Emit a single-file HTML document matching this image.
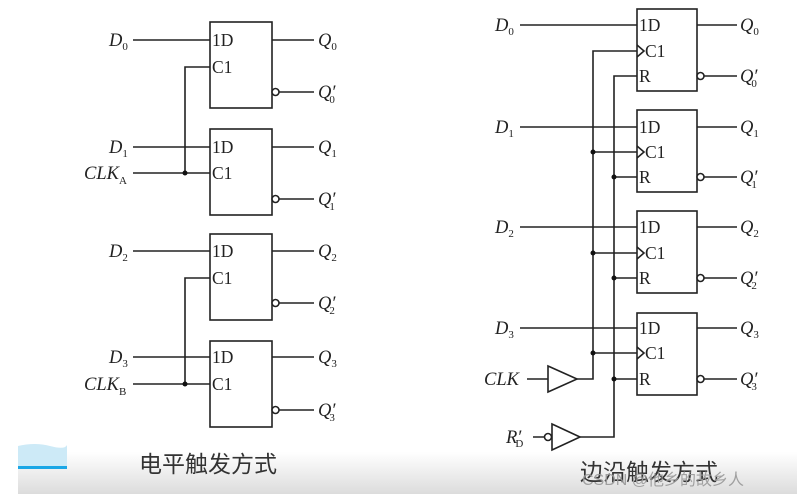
<!DOCTYPE html>
<html><head><meta charset="utf-8"><style>
html,body{margin:0;padding:0;background:#fff;width:797px;height:495px;overflow:hidden}
svg{display:block}
text{font-family:"Liberation Serif",serif;fill:#222}
.it{font-style:italic}
</style></head><body>
<svg width="797" height="495" viewBox="0 0 797 495">
<defs><linearGradient id="g" x1="0" y1="0" x2="0" y2="1"><stop offset="0" stop-color="#fff"/><stop offset="1" stop-color="#dcdcdc"/></linearGradient></defs>
<rect x="18" y="452" width="779" height="42" fill="url(#g)"/>
<path d="M18 446 Q35 442 50 446 T67 445 L67 467 L18 467Z" fill="#cdeaf7"/>
<rect x="18" y="466" width="49" height="3" fill="#1aa7e6"/>
<g stroke="#222" stroke-width="1.6" fill="none">
<rect x="210" y="22" width="62" height="86"/>
<rect x="210" y="129" width="62" height="86"/>
<rect x="210" y="234" width="62" height="86"/>
<rect x="210" y="341" width="62" height="86"/>
<path d="M133 40H210M133 147H210M133 251H210M133 357H210"/>
<path d="M210 67H185V173M133 173H210"/>
<path d="M210 278H185V384M133 384H210"/>
<path d="M272 40H314M272 147H314M272 251H314M272 357H314"/>
<path d="M279 92H314M279 199H314M279 303H314M279 410H314"/>
<circle cx="275.5" cy="92" r="3.5" fill="#fff"/><circle cx="275.5" cy="199" r="3.5" fill="#fff"/>
<circle cx="275.5" cy="303" r="3.5" fill="#fff"/><circle cx="275.5" cy="410" r="3.5" fill="#fff"/>
<rect x="637" y="9" width="60" height="82"/>
<rect x="637" y="110" width="60" height="82"/>
<rect x="637" y="211" width="60" height="82"/>
<rect x="637" y="313" width="60" height="82"/>
<path d="M520 25H637M520 127H637M520 227H637M520 328H637"/>
<path d="M637 51H593V379H577M593 152H637M593 253H637M593 353H637"/>
<path d="M637 76H614V437H580M614 177H637M614 278H637M614 379H637"/>
<path d="M637 45L644 51L637 57M637 146L644 152L637 158M637 247L644 253L637 259M637 347L644 353L637 359"/>
<path d="M697 25H737M697 127H737M697 227H737M697 328H737"/>
<path d="M704 76H737M704 177H737M704 278H737M704 379H737"/>
<circle cx="700.5" cy="76" r="3.5" fill="#fff"/><circle cx="700.5" cy="177" r="3.5" fill="#fff"/>
<circle cx="700.5" cy="278" r="3.5" fill="#fff"/><circle cx="700.5" cy="379" r="3.5" fill="#fff"/>
<path d="M527 379H548M548 366L577 379L548 392Z"/>
<path d="M533 437H544M552 424L580 437L552 450Z"/>
<circle cx="548" cy="437" r="3.5" fill="#fff"/>
</g>
<g fill="#111">
<circle cx="185" cy="173" r="2.5"/><circle cx="185" cy="384" r="2.5"/>
<circle cx="593" cy="152" r="2.5"/><circle cx="593" cy="253" r="2.5"/><circle cx="593" cy="353" r="2.5"/>
<circle cx="614" cy="177" r="2.5"/><circle cx="614" cy="278" r="2.5"/><circle cx="614" cy="379" r="2.5"/>
</g>
<g font-size="17.5">
<text x="212" y="46">1D</text><text x="212" y="73">C1</text>
<text x="212" y="153">1D</text><text x="212" y="179">C1</text>
<text x="212" y="257">1D</text><text x="212" y="284">C1</text>
<text x="212" y="363">1D</text><text x="212" y="390">C1</text>
<text x="639" y="31">1D</text><text x="645" y="57">C1</text><text x="639" y="82">R</text>
<text x="639" y="133">1D</text><text x="645" y="158">C1</text><text x="639" y="183">R</text>
<text x="639" y="233">1D</text><text x="645" y="259">C1</text><text x="639" y="284">R</text>
<text x="639" y="334">1D</text><text x="645" y="359">C1</text><text x="639" y="385">R</text>
</g>
<g font-size="18.5" class="it">
<text x="109" y="46" class="it">D<tspan font-size="11" dy="4" font-style="normal">0</tspan></text>
<text x="109" y="153" class="it">D<tspan font-size="11" dy="4" font-style="normal">1</tspan></text>
<text x="109" y="257" class="it">D<tspan font-size="11" dy="4" font-style="normal">2</tspan></text>
<text x="109" y="363" class="it">D<tspan font-size="11" dy="4" font-style="normal">3</tspan></text>
<text x="84" y="179" class="it">CLK<tspan font-size="11" dy="5" font-style="normal">A</tspan></text>
<text x="84" y="390" class="it">CLK<tspan font-size="11" dy="5" font-style="normal">B</tspan></text>
<text x="318" y="46" class="it">Q<tspan font-size="11" dy="4" font-style="normal">0</tspan></text>
<text x="318" y="98" class="it">Q′<tspan font-size="11" dy="5" dx="-6" font-style="normal">0</tspan></text>
<text x="318" y="153" class="it">Q<tspan font-size="11" dy="4" font-style="normal">1</tspan></text>
<text x="318" y="205" class="it">Q′<tspan font-size="11" dy="5" dx="-6" font-style="normal">1</tspan></text>
<text x="318" y="257" class="it">Q<tspan font-size="11" dy="4" font-style="normal">2</tspan></text>
<text x="318" y="309" class="it">Q′<tspan font-size="11" dy="5" dx="-6" font-style="normal">2</tspan></text>
<text x="318" y="363" class="it">Q<tspan font-size="11" dy="4" font-style="normal">3</tspan></text>
<text x="318" y="416" class="it">Q′<tspan font-size="11" dy="5" dx="-6" font-style="normal">3</tspan></text>
<text x="495" y="31" class="it">D<tspan font-size="11" dy="4" font-style="normal">0</tspan></text>
<text x="495" y="133" class="it">D<tspan font-size="11" dy="4" font-style="normal">1</tspan></text>
<text x="495" y="233" class="it">D<tspan font-size="11" dy="4" font-style="normal">2</tspan></text>
<text x="495" y="334" class="it">D<tspan font-size="11" dy="4" font-style="normal">3</tspan></text>
<text x="484" y="385" class="it">CLK</text>
<text x="506" y="443" class="it">R′<tspan font-size="11" dy="4" dx="-6" font-style="normal">D</tspan></text>
<text x="740" y="31" class="it">Q<tspan font-size="11" dy="4" font-style="normal">0</tspan></text>
<text x="740" y="82" class="it">Q′<tspan font-size="11" dy="5" dx="-6" font-style="normal">0</tspan></text>
<text x="740" y="133" class="it">Q<tspan font-size="11" dy="4" font-style="normal">1</tspan></text>
<text x="740" y="183" class="it">Q′<tspan font-size="11" dy="5" dx="-6" font-style="normal">1</tspan></text>
<text x="740" y="233" class="it">Q<tspan font-size="11" dy="4" font-style="normal">2</tspan></text>
<text x="740" y="284" class="it">Q′<tspan font-size="11" dy="5" dx="-6" font-style="normal">2</tspan></text>
<text x="740" y="334" class="it">Q<tspan font-size="11" dy="4" font-style="normal">3</tspan></text>
<text x="740" y="385" class="it">Q′<tspan font-size="11" dy="5" dx="-6" font-style="normal">3</tspan></text>
</g>
<text x="139" y="472" font-size="23" style="font-family:'Liberation Sans','Noto Sans CJK SC',sans-serif;fill:#333">电平触发方式</text>
<text x="580" y="480" font-size="23" style="font-family:'Liberation Sans','Noto Sans CJK SC',sans-serif;fill:#333">边沿触发方式</text>
<text x="582" y="485" font-size="16" style="font-family:'Liberation Sans','Noto Sans CJK SC',sans-serif;fill:#999;opacity:0.9">CSDN @他乡的故乡人</text>
</svg>
</body></html>
